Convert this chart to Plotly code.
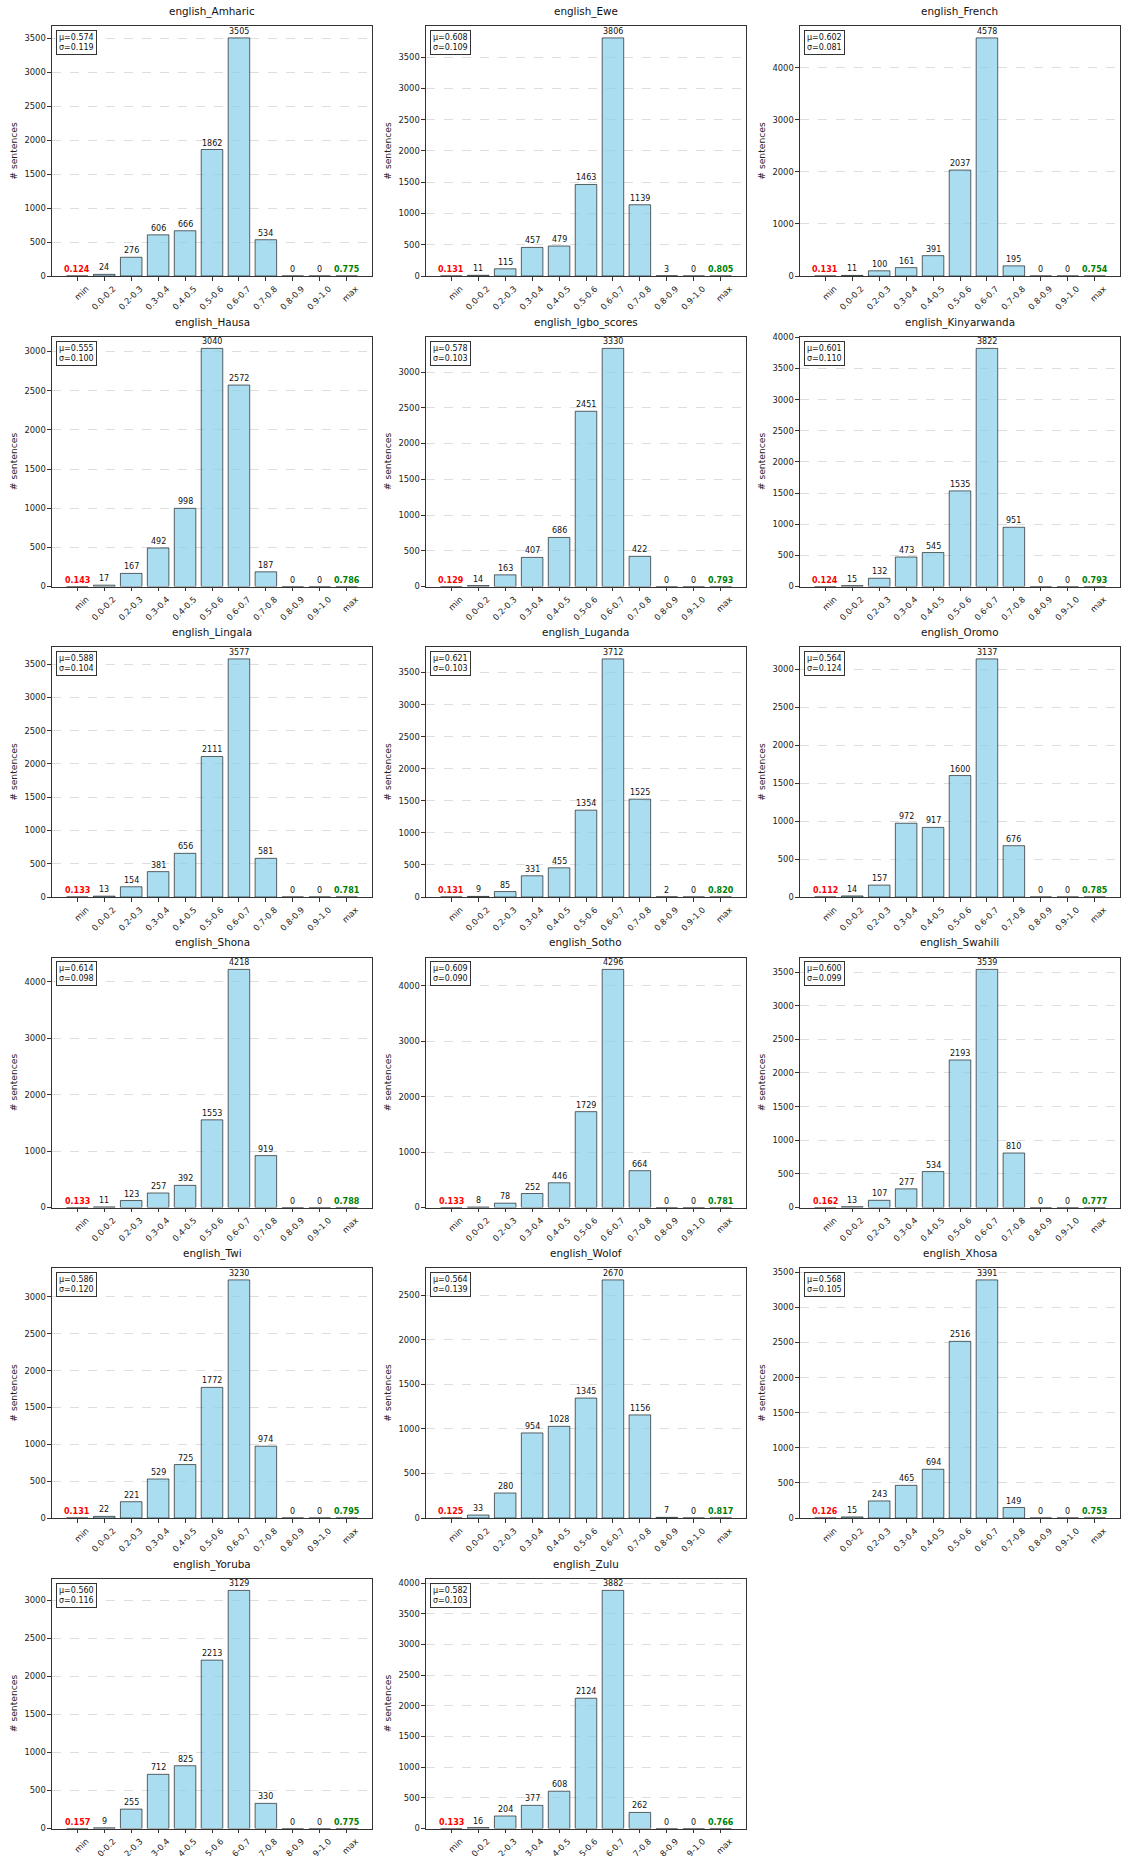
import plotly.graph_objects as go

bins = ["min", "0.0-0.2", "0.2-0.3", "0.3-0.4", "0.4-0.5", "0.5-0.6",
        "0.6-0.7", "0.7-0.8", "0.8-0.9", "0.9-1.0", "max"]

languages = ["english_Amharic", "english_Ewe", "english_French", "english_Hausa",
             "english_Igbo_scores", "english_Kinyarwanda", "english_Lingala",
             "english_Luganda", "english_Oromo", "english_Shona", "english_Sotho",
             "english_Swahili", "english_Twi", "english_Wolof", "english_Xhosa",
             "english_Yoruba", "english_Zulu"]

counts_amharic = [24, 276, 606, 666, 1862, 3505, 534, 0, 0]
counts_ewe = [11, 115, 457, 479, 1463, 3806, 1139, 3, 0]
counts_french = [11, 100, 161, 391, 2037, 4578, 195, 0, 0]
counts_hausa = [17, 167, 492, 998, 3040, 2572, 187, 0, 0]
counts_igbo = [14, 163, 407, 686, 2451, 3330, 422, 0, 0]
counts_kinyarwanda = [15, 132, 473, 545, 1535, 3822, 951, 0, 0]
counts_lingala = [13, 154, 381, 656, 2111, 3577, 581, 0, 0]
counts_luganda = [9, 85, 331, 455, 1354, 3712, 1525, 2, 0]
counts_oromo = [14, 157, 972, 917, 1600, 3137, 676, 0, 0]
counts_shona = [11, 123, 257, 392, 1553, 4218, 919, 0, 0]
counts_sotho = [8, 78, 252, 446, 1729, 4296, 664, 0, 0]
counts_swahili = [13, 107, 277, 534, 2193, 3539, 810, 0, 0]
counts_twi = [22, 221, 529, 725, 1772, 3230, 974, 0, 0]
counts_wolof = [33, 280, 954, 1028, 1345, 2670, 1156, 7, 0]
counts_xhosa = [15, 243, 465, 694, 2516, 3391, 149, 0, 0]
counts_yoruba = [9, 255, 712, 825, 2213, 3129, 330, 0, 0]
counts_zulu = [16, 204, 377, 608, 2124, 3882, 262, 0, 0]

all_counts = [counts_amharic, counts_ewe, counts_french, counts_hausa, counts_igbo,
              counts_kinyarwanda, counts_lingala, counts_luganda, counts_oromo,
              counts_shona, counts_sotho, counts_swahili, counts_twi, counts_wolof,
              counts_xhosa, counts_yoruba, counts_zulu]

min_scores = [0.124, 0.131, 0.131, 0.143, 0.129, 0.124, 0.133, 0.131, 0.112,
              0.133, 0.133, 0.162, 0.131, 0.125, 0.126, 0.157, 0.133]
max_scores = [0.775, 0.805, 0.754, 0.786, 0.793, 0.793, 0.781, 0.820, 0.785,
              0.788, 0.781, 0.777, 0.795, 0.817, 0.753, 0.775, 0.766]
means = [0.574, 0.608, 0.602, 0.555, 0.578, 0.601, 0.588, 0.621, 0.564,
         0.614, 0.609, 0.600, 0.586, 0.564, 0.568, 0.560, 0.582]
stds = [0.119, 0.109, 0.081, 0.100, 0.103, 0.110, 0.104, 0.103, 0.124,
        0.098, 0.090, 0.099, 0.120, 0.139, 0.105, 0.116, 0.103]

FW, FH = 1121, 1856
col_left = [52, 426, 800]
plot_w = 320
row_top0 = 26
row_pitch = 310.5
plot_h = 250

FONT = "DejaVu Sans"
fig = go.Figure()
annotations = []
layout = {}

for i, lang in enumerate(languages):
    r, c = divmod(i, 3)
    n = i + 1
    xa = "x" if n == 1 else f"x{n}"
    ya = "y" if n == 1 else f"y{n}"
    xkey = "xaxis" if n == 1 else f"xaxis{n}"
    ykey = "yaxis" if n == 1 else f"yaxis{n}"
    top = row_top0 + row_pitch * r
    x0 = col_left[c] / FW
    x1 = min(1.0, (col_left[c] + plot_w) / FW)
    y1 = 1 - top / FH
    y0 = 1 - (top + plot_h) / FH

    vals = [0] + all_counts[i] + [0]
    fig.add_trace(go.Bar(
        x=bins, y=vals, xaxis=xa, yaxis=ya, width=0.8,
        marker=dict(color="rgba(135,206,235,0.7)",
                    line=dict(color="rgba(0,0,0,0.6)", width=1)),
        showlegend=False, hoverinfo="x+y",
    ))
    ymax = max(vals) * 1.05
    dtick = 1000 if max(vals) > 4000 else 500

    layout[xkey] = dict(
        domain=[x0, x1], anchor=ya, type="category", range=[-0.94, 10.94],
        automargin=False,
        tickangle=-45, tickfont=dict(size=8.4, family=FONT, color="#222"),
        ticklabelshift=9,
        showline=True, mirror=True, linecolor="#333", linewidth=1.2,
        ticks="outside", ticklen=3.5, tickcolor="#333", showgrid=False,
    )
    layout[ykey] = dict(
        domain=[y0, y1], anchor=xa, range=[0, ymax], dtick=dtick, tick0=0,
        automargin=False,
        tickfont=dict(size=8.4, family=FONT, color="#222"),
        showline=True, mirror=True, linecolor="#333", linewidth=1.2,
        ticks="outside", ticklen=3.5, tickcolor="#333",
        showgrid=True, gridcolor="rgba(0,0,0,0.13)", griddash="dash", gridwidth=0.8,
        zeroline=False,
        title=dict(text="# sentences", font=dict(size=9.2, family=FONT, color="#222"),
                   standoff=5),
    )

    annotations.append(dict(
        text=lang, xref="paper", yref="paper", x=(x0 + x1) / 2, y=y1,
        yshift=6, xanchor="center", yanchor="bottom", showarrow=False,
        font=dict(size=10.4, family=FONT, color="#111"),
    ))
    for b, v in zip(bins[1:-1], all_counts[i]):
        annotations.append(dict(
            text=str(v), x=b, y=v, xref=xa, yref=ya, showarrow=False,
            yanchor="bottom", yshift=0, font=dict(size=8, family=FONT, color="#111"),
        ))
    annotations.append(dict(
        text=f"<b>{min_scores[i]:.3f}</b>", x=bins[0], y=0, xref=xa, yref=ya,
        showarrow=False, yanchor="bottom", yshift=0,
        font=dict(size=8, family=FONT, color="red"),
    ))
    annotations.append(dict(
        text=f"<b>{max_scores[i]:.3f}</b>", x=bins[-1], y=0, xref=xa, yref=ya,
        showarrow=False, yanchor="bottom", yshift=0,
        font=dict(size=8, family=FONT, color="green"),
    ))
    annotations.append(dict(
        text=f"μ={means[i]:.3f}<br>σ={stds[i]:.3f}", xref="paper", yref="paper",
        x=x0, y=y1, xshift=4, yshift=-4, xanchor="left", yanchor="top",
        align="left", showarrow=False, bordercolor="#333", borderwidth=1,
        borderpad=2, bgcolor="white",
        font=dict(size=8, family=FONT, color="#111"),
    ))

fig.update_layout(
    width=FW, height=FH, margin=dict(l=0, r=0, t=0, b=0, autoexpand=False),
    paper_bgcolor="white", plot_bgcolor="white",
    annotations=annotations, bargap=0.2, **layout,
)

fig.write_html(
    "out.html",
    config={"displayModeBar": False},
    post_script="document.body.style.margin='0';document.body.style.overflow='hidden';",
)
